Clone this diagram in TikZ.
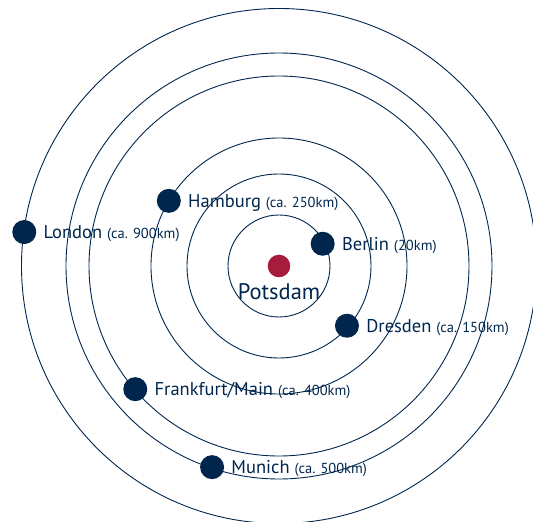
\documentclass[tikz,border=0pt]{standalone}
\usepackage{fontspec}
\setmainfont{PT Sans}
\usetikzlibrary{positioning}
\definecolor{navy}{HTML}{00264D}
\definecolor{upred}{HTML}{A51C3C}
\newcommand{\dist}[1]{{\fontsize{14.5}{16}\selectfont #1}}
\tikzset{
  orbit/.style={draw=navy, line width=0.9pt},
  city/.style={circle, fill=navy, minimum size=24pt, inner sep=0pt},
  home/.style={circle, fill=upred, minimum size=22.6pt, inner sep=0pt},
  place/.style={inner sep=0pt, text height=12.6pt, text depth=0pt, text=navy, font=\fontsize{18.5}{20}\selectfont}
}

\begin{document}
\begin{tikzpicture}[x=1pt,y=1pt]
% rahmen
\useasboundingbox (-279,-256) rectangle (254,266);
\clip (-279,-256) rectangle (254,266);
% kreise
\foreach \r in {51,92,128,190,213,257.5}
  \draw[orbit] (0,0) circle (\r);
% mitte
\node[home] (potsdam) at (0,0) {};
\node[place, text height=15pt, font=\fontsize{22.5}{24}\selectfont, below=7pt of potsdam] (potsdamlabel) {Potsdam};
% staedte
\node[city] (berlin) at (27:49) {};
\node[city] (dresden) at (-41.3:90.5) {};
\node[city] (hamburg) at (149.4:128) {};
\node[city] (frankfurt) at (220.6:189.3) {};
\node[city] (munich) at (251.6:212) {};
\node[city] (london) at (172.4:257) {};
% beschriftung
\node[place, right=7pt of berlin] (berlinlabel) {Berlin \dist{(20km)}};
\node[place, right=7pt of dresden] (dresdenlabel) {Dresden \dist{(ca. 150km)}};
\node[place, right=7pt of hamburg] (hamburglabel) {Hamburg \dist{(ca. 250km)}};
\node[place, right=7pt of frankfurt] (frankfurtlabel) {Frankfurt/Main \dist{(ca. 400km)}};
\node[place, right=7pt of munich] (munichlabel) {Munich \dist{(ca. 500km)}};
\node[place, right=7pt of london] (londonlabel) {London \dist{(ca. 900km)}};
\end{tikzpicture}
\end{document}
